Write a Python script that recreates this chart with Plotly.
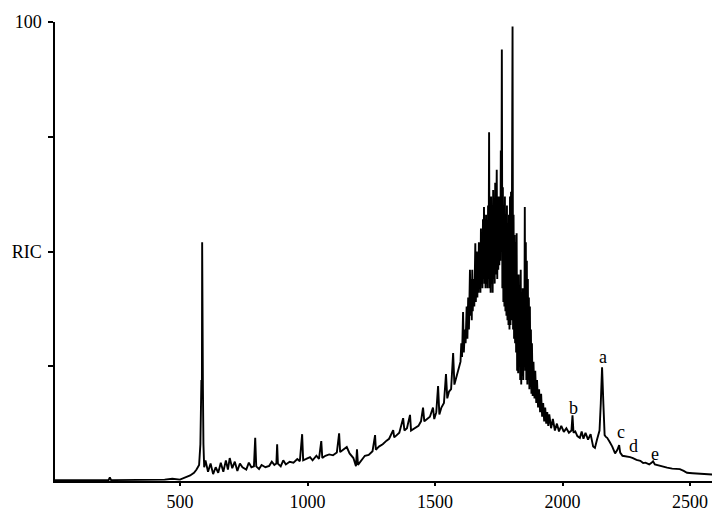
import plotly.graph_objects as go

# Reconstructed ion chromatogram (scan number vs. relative intensity, %)
scan = [10, 220, 225, 230, 440, 470, 500, 520, 540, 555, 565, 575, 580, 582, 584, 586, 587, 588, 590, 592, 595,
        600, 610, 620, 630, 640, 650, 660, 670, 680, 688, 695, 705, 715, 725, 735, 745, 760, 770, 780,
        790, 795, 799, 810, 820, 835, 850, 860, 870, 878, 881, 884, 895, 905, 915, 930, 945, 960, 970,
        979, 983, 995, 1010, 1020, 1035, 1045, 1054, 1058, 1070, 1085, 1100, 1115, 1124, 1128, 1140,
        1154, 1165, 1180, 1190, 1194, 1198, 1210, 1225, 1240, 1255, 1265, 1268, 1280, 1295, 1310, 1320,
        1336, 1340, 1350, 1360, 1375, 1380, 1390, 1402, 1406, 1420, 1435, 1445, 1453, 1458, 1470, 1480,
        1492, 1497, 1505, 1512, 1517, 1525, 1535, 1543, 1548, 1555, 1563, 1571, 1576, 1585, 1595,
        1600, 1603, 1606, 1610, 1613, 1617, 1620, 1624, 1627, 1630, 1633, 1637,
        1640, 1642, 1644, 1646, 1648, 1650, 1652, 1654, 1656, 1658, 1660, 1662, 1664, 1666, 1668, 1670,
        1672, 1674, 1676, 1678, 1680, 1682, 1684, 1686, 1688, 1690, 1692, 1694, 1696, 1698, 1700, 1702,
        1704, 1706, 1708, 1710, 1712, 1714, 1716, 1718, 1720, 1722, 1724, 1726, 1728, 1730, 1732, 1734,
        1736, 1738, 1740, 1742, 1744, 1746, 1748, 1750, 1752, 1754, 1756, 1758, 1760, 1762, 1764, 1766,
        1768, 1770, 1772, 1774, 1776, 1778, 1780, 1782, 1784, 1786, 1788, 1790, 1792, 1794, 1796, 1798,
        1800, 1802, 1804, 1806, 1808, 1810, 1812, 1814, 1816, 1818, 1820, 1822, 1824, 1826, 1828, 1830,
        1832, 1834, 1836, 1838, 1840, 1842, 1844, 1846, 1848, 1850, 1852, 1854, 1856, 1858, 1860, 1862,
        1864, 1866, 1868, 1870, 1872, 1874, 1876, 1878, 1880,
        1883, 1886, 1890, 1893, 1897, 1900, 1904, 1908, 1912, 1916, 1920, 1924, 1928, 1932, 1936, 1940,
        1944, 1948, 1955,
        1962, 1970, 1978, 1986, 1995, 2005, 2015, 2025, 2035, 2039, 2043, 2050, 2058, 2068, 2075, 2082,
        2090, 2100, 2110, 2120, 2127, 2135, 2145, 2150, 2155, 2160, 2165, 2170, 2175, 2185, 2195, 2206,
        2215, 2222, 2226, 2235, 2250, 2265, 2276, 2290, 2305, 2316, 2325, 2340, 2350, 2355, 2362, 2380,
        2395, 2410, 2430, 2445, 2460, 2475, 2488, 2510, 2530, 2566, 2590]
ric = [0.2, 0.2, 0.8, 0.2, 0.3, 0.5, 0.3, 0.8, 1.2, 1.8, 2.5, 3.5, 8, 15, 22, 21, 52, 22, 20, 8, 3,
       4.5, 2, 3.8, 1.5, 3, 1.8, 4, 2, 4.5, 2.5, 5, 2.8, 4.2, 2.2, 3.8, 3, 2.5, 4, 3,
       3.2, 9.4, 3.2, 2.6, 3.5, 3, 3.3, 4.2, 3.5, 3.8, 8, 3.8, 3.2, 4.5, 3.6, 4.2, 4, 4.8, 4.3,
       10.2, 4.5, 4.8, 5.2, 4.5, 5.5, 4.8, 8.7, 5, 5.5, 5.8, 5.6, 6.2, 10.4, 6.3, 6.8,
       7.4, 6, 5, 3.2, 6.9, 3.5, 4.5, 5.5, 5.7, 6.5, 10, 6.8, 7.5, 8, 8.8, 9.2,
       11.1, 9.5, 10, 10.5, 13.7, 11, 11.5, 14.4, 11, 11.5, 12, 13, 16, 13, 13.5, 14,
       16, 13.5, 15, 20.7, 14.5, 16, 17, 23.3, 18, 19.5, 20, 27.9, 21, 23, 25,
       26, 30, 27, 36.8, 28, 33, 30, 38, 31, 40, 33, 46,
       36, 44, 35, 46, 37, 42, 44, 38, 49, 51.8, 39, 47, 50, 40, 48, 41,
       52, 42, 49, 41, 55, 43, 53, 42, 57, 44, 59.7, 43, 56, 42, 58, 43,
       55, 42, 60, 44, 76, 42, 57, 41, 62, 43, 58, 41, 63.4, 44, 60, 43,
       65, 45, 61, 67.8, 44, 58, 46, 62, 47, 57, 48, 72, 50, 94, 42, 64,
       39, 60, 38, 62, 37, 58, 36, 60, 35, 56, 34, 58, 33, 62, 34, 63,
       35, 64, 99, 33, 58, 31, 53.6, 30, 52, 28, 54, 24, 42, 23.5, 45, 25,
       40, 22, 46, 21, 38, 23, 42, 22, 36, 25, 59.7, 24, 52, 22, 48, 21,
       44, 22, 40, 20, 38, 20.5, 33, 19, 30,
       18.5, 26, 18, 24, 17, 22, 16, 20, 15, 19, 14, 17, 13, 16, 12.5, 15,
       12, 14.5, 11.5,
       13.5, 11, 12.5, 10.8, 12, 10.7, 11.5, 10.5, 11, 14.3, 10.5, 10.8, 9.8, 9.4, 10.8, 9.2,
       10.5, 9, 10.2, 7.5, 7.2, 9, 11, 17, 24.8, 17, 10, 9.6, 9.4, 8.5, 7.5, 6,
       6.8, 7.8, 6.2, 5.5, 5.4, 5.2, 5, 4.6, 4.4, 3.9, 4.0, 3.6, 4.0, 4.3, 3.6, 3.3,
       3.2, 2.9, 2.7, 2.7, 2.6, 2.2, 1.8, 1.7, 1.6, 1.5, 1.4]

# Peak labels
peak_labels = ["a", "b", "c", "d", "e"]
peak_x = [2160, 2042, 2230, 2280, 2362]
peak_y = [27.0, 15.9, 10.7, 7.6, 5.9]

x_ticks = [500, 1000, 1500, 2000, 2500]
y_ticks = [25, 50, 75, 100]
y_ticktext = ["", "RIC", "", "100"]

FONT = "Liberation Serif, Times New Roman, serif"

fig = go.Figure()
fig.add_trace(go.Scatter(x=scan, y=ric, mode="lines",
                         line=dict(color="black", width=1.9), hoverinfo="skip"))

for t, xx, yy in zip(peak_labels, peak_x, peak_y):
    fig.add_annotation(x=xx, y=yy, text=t, showarrow=False,
                       font=dict(family=FONT, size=18, color="black"),
                       xanchor="center", yanchor="middle")

fig.update_layout(
    width=712, height=511,
    margin=dict(l=55, r=0, t=22, b=30),
    paper_bgcolor="white", plot_bgcolor="white",
    showlegend=False,
    font=dict(family=FONT, size=18, color="black"),
    xaxis=dict(range=[10, 2586], tickvals=x_ticks, ticktext=[str(v) for v in x_ticks],
               showline=True, linecolor="black", linewidth=2, ticks="outside",
               ticklen=3, tickwidth=1.5, tickcolor="black", showgrid=False, zeroline=False,
               tickfont=dict(family=FONT, size=18, color="black")),
    yaxis=dict(range=[0, 100], tickvals=y_ticks, ticktext=y_ticktext,
               showline=True, linecolor="black", linewidth=1.5, ticks="outside",
               ticklen=5, tickwidth=1.5, tickcolor="black", showgrid=False, zeroline=False,
               ticklabelstandoff=3,
               tickfont=dict(family=FONT, size=18, color="black")),
)

fig.write_html("out.html")
